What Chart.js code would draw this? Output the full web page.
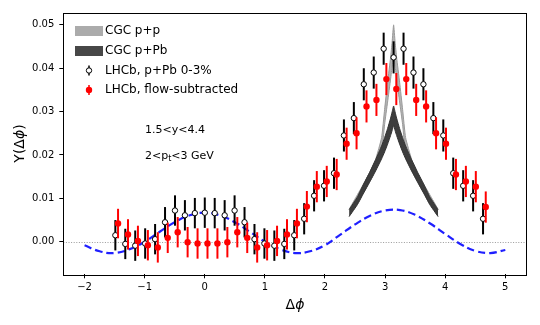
<!DOCTYPE html>
<html>
<head>
<meta charset="utf-8">
<script src="https://cdn.jsdelivr.net/npm/chart.js@4.4.0/dist/chart.umd.min.js"></script>
<style>
  html, body { margin: 0; padding: 0; background: #fff; }
  #wrap { width: 540px; height: 325px; }
</style>
</head>
<body>
<div id="wrap"><canvas id="chart" width="540" height="325"></canvas></div>
<script>
// Delta-phi bin centres (38 bins over -pi/2 .. 3pi/2)
const phiBins = [-1.4881, -1.3228, -1.1574, -0.9921, -0.8267, -0.6614, -0.4960, -0.3307, -0.1653, 0.0000,
  0.1653, 0.3307, 0.4960, 0.6614, 0.8267, 0.9921, 1.1574, 1.3228, 1.4881, 1.6535,
  1.8188, 1.9842, 2.1495, 2.3149, 2.4802, 2.6456, 2.8109, 2.9762, 3.1416, 3.3069,
  3.4723, 3.6376, 3.8030, 3.9683, 4.1337, 4.2990, 4.4644, 4.6297];

// LHCb p+Pb 0-3%
const lhcbY = [0.0015, -0.0005, -0.0009, -0.0004, 0.0006, 0.0045, 0.0072, 0.0061, 0.0066, 0.0067,
  0.0066, 0.0061, 0.0072, 0.0045, 0.0006, -0.0004, -0.0009, -0.0005, 0.0015, 0.0053,
  0.0106, 0.0129, 0.0158, 0.0245, 0.0285, 0.0363, 0.0390, 0.0445, 0.0425, 0.0445,
  0.0390, 0.0363, 0.0285, 0.0245, 0.0158, 0.0129, 0.0106, 0.0053];
const lhcbErr = [0.0035, 0.0035, 0.0035, 0.0035, 0.0035, 0.0035, 0.0035, 0.0035, 0.0035, 0.0035,
  0.0035, 0.0035, 0.0035, 0.0035, 0.0035, 0.0035, 0.0035, 0.0035, 0.0035, 0.0036,
  0.0036, 0.0036, 0.0036, 0.0037, 0.0037, 0.0037, 0.0037, 0.0037, 0.0037, 0.0037,
  0.0037, 0.0037, 0.0037, 0.0037, 0.0036, 0.0036, 0.0036, 0.0036];

// LHCb flow-subtracted (drawn slightly shifted in delta-phi)
const subShift = 0.045;
const subY = [0.0042, 0.0017, 0.0002, -0.0008, -0.0013, 0.0009, 0.0022, -0.0001, -0.0004, -0.0004,
  -0.0004, -0.0001, 0.0022, 0.0009, -0.0013, -0.0008, 0.0002, 0.0017, 0.0042, 0.0081,
  0.0127, 0.0139, 0.0155, 0.0226, 0.0250, 0.0312, 0.0327, 0.0375, 0.0352, 0.0375,
  0.0327, 0.0312, 0.0250, 0.0226, 0.0155, 0.0139, 0.0127, 0.0080];
const subErr = [0.0034, 0.0035, 0.0035, 0.0035, 0.0035, 0.0035, 0.0035, 0.0035, 0.0035, 0.0035,
  0.0035, 0.0035, 0.0035, 0.0035, 0.0035, 0.0035, 0.0035, 0.0035, 0.0034, 0.0036,
  0.0036, 0.0036, 0.0036, 0.0037, 0.0037, 0.0037, 0.0037, 0.0037, 0.0037, 0.0037,
  0.0037, 0.0037, 0.0037, 0.0037, 0.0036, 0.0036, 0.0036, 0.0036];

// flow (dashed blue)
const flowPhi = [-2, -1.75, -1.5, -1.25, -1, -0.75, -0.5, -0.25, 0, 0.25, 0.5, 0.75, 1, 1.25, 1.5,
  1.75, 2, 2.25, 2.5, 2.75, 3, 3.25, 3.5, 3.75, 4, 4.25, 4.5, 4.75, 5];
const flowY = [-0.0008, -0.0022, -0.0026, -0.0017, 0.0000, 0.0023, 0.0045, 0.0061, 0.0067, 0.0061, 0.0045,
  0.0023, 0.0000, -0.0017, -0.0026, -0.0022, -0.0008, 0.0016, 0.0040, 0.0060, 0.0072, 0.0073, 0.0062,
  0.0042, 0.0018, -0.0005, -0.0021, -0.0026, -0.0019];

// CGC bands
const cgcPhi = [2.4016, 2.5416, 2.6416, 2.7416, 2.8416, 2.9416, 2.9916, 3.0416, 3.0916, 3.1166, 3.1416,
  3.1666, 3.1916, 3.2416, 3.2916, 3.3416, 3.4416, 3.5416, 3.6416, 3.7416, 3.8816];
const ppUpper = [0.0075, 0.0109, 0.0133, 0.0159, 0.0190, 0.0240, 0.0305, 0.0368, 0.0425, 0.0460, 0.0500,
  0.0460, 0.0425, 0.0368, 0.0305, 0.0240, 0.0190, 0.0159, 0.0133, 0.0109, 0.0075];
const ppLower = [0.0059, 0.0090, 0.0113, 0.0138, 0.0165, 0.0205, 0.0270, 0.0322, 0.0375, 0.0405, 0.0440,
  0.0405, 0.0375, 0.0322, 0.0270, 0.0205, 0.0165, 0.0138, 0.0113, 0.0090, 0.0059];
const pPbUpper = [0.0074, 0.0104, 0.0133, 0.0160, 0.0189, 0.0221, 0.0240, 0.0261, 0.0285, 0.0299, 0.0313,
  0.0299, 0.0285, 0.0261, 0.0240, 0.0221, 0.0189, 0.0160, 0.0133, 0.0104, 0.0074];
const pPbLower = [0.0058, 0.0086, 0.0112, 0.0137, 0.0163, 0.0191, 0.0207, 0.0225, 0.0245, 0.0256, 0.0268,
  0.0256, 0.0245, 0.0225, 0.0207, 0.0191, 0.0163, 0.0137, 0.0112, 0.0086, 0.0058];

const xTicks = [-2, -1, 0, 1, 2, 3, 4, 5];
const yTicks = [0, 0.01, 0.02, 0.03, 0.04, 0.05];

const FONT = '"DejaVu Sans", sans-serif';
const pts = (xs, ys, dx = 0) => xs.map((x, i) => ({ x: x + dx, y: ys[i] }));

// draws text made of several pieces (different fonts / offsets)
function drawParts(ctx, parts, x, y, align) {
	let w = 0;
	parts.forEach(p => { ctx.font = p.font; w += ctx.measureText(p.t).width; });
	let cx = align === 'center' ? x - w / 2 : x;
	ctx.textAlign = 'left';
	ctx.textBaseline = 'middle';
	parts.forEach(p => {
		ctx.font = p.font;
		ctx.fillText(p.t, cx, y + (p.dy || 0));
		cx += ctx.measureText(p.t).width;
	});
}

const errorBars = {
	id: 'errorBars',
	beforeDatasetDraw(chart, args) {
		const ds = chart.data.datasets[args.index];
		if (!ds.errors) return;
		const { ctx, scales: { x, y } } = chart;
		ctx.save();
		ctx.strokeStyle = ds.errColor;
		ctx.lineWidth = 2;
		ds.data.forEach((p, i) => {
			const px = x.getPixelForValue(p.x);
			ctx.beginPath();
			ctx.moveTo(px, y.getPixelForValue(p.y - ds.errors[i]));
			ctx.lineTo(px, y.getPixelForValue(p.y + ds.errors[i]));
			ctx.stroke();
		});
		ctx.restore();
	}
};

const decorations = {
	id: 'decorations',
	beforeDatasetsDraw(chart) {
		// dotted zero line
		const { ctx, chartArea: a, scales: { y } } = chart;
		const py = Math.round(y.getPixelForValue(0)) + 0.5;
		ctx.save();
		ctx.strokeStyle = '#808080';
		ctx.lineWidth = 0.8;
		ctx.setLineDash([1, 1.6]);
		ctx.beginPath();
		ctx.moveTo(a.left, py);
		ctx.lineTo(a.right, py);
		ctx.stroke();
		ctx.restore();
	},
	afterDraw(chart) {
		const { ctx, chartArea: a } = chart;
		ctx.save();
		// frame
		ctx.strokeStyle = '#000';
		ctx.lineWidth = 1;
		ctx.strokeRect(Math.round(a.left) + 0.5, Math.round(a.top) + 0.5,
			Math.round(a.right - a.left), Math.round(a.bottom - a.top));

		ctx.fillStyle = '#000';
		// axis titles
		drawParts(ctx, [
			{ t: 'Δ', font: '14px ' + FONT },
			{ t: 'ϕ', font: 'italic 14px ' + FONT }
		], (a.left + a.right) / 2, 305, 'center');
		ctx.save();
		ctx.translate(20, (a.top + a.bottom) / 2);
		ctx.rotate(-Math.PI / 2);
		drawParts(ctx, [
			{ t: 'Y(Δ', font: '14px ' + FONT },
			{ t: 'ϕ', font: 'italic 14px ' + FONT },
			{ t: ')', font: '14px ' + FONT }
		], 0, 0, 'center');
		ctx.restore();

		// annotations
		drawParts(ctx, [{ t: '1.5<y<4.4', font: '11px ' + FONT }], 145, 130, 'left');
		drawParts(ctx, [
			{ t: '2<p', font: '11px ' + FONT },
			{ t: 't', font: '8px ' + FONT, dy: 3 },
			{ t: '<3 GeV', font: '11px ' + FONT }
		], 145, 156, 'left');

		// legend
		ctx.fillStyle = '#ababab';
		ctx.fillRect(75, 26, 28, 10);
		ctx.fillStyle = '#474747';
		ctx.fillRect(75, 46, 28, 10);

		ctx.lineWidth = 1.5;
		ctx.strokeStyle = '#000';
		ctx.beginPath(); ctx.moveTo(89, 65.5); ctx.lineTo(89, 75.5); ctx.stroke();
		ctx.fillStyle = '#fff';
		ctx.lineWidth = 1;
		ctx.beginPath(); ctx.arc(89, 70.5, 2.7, 0, Math.PI * 2); ctx.fill(); ctx.stroke();

		ctx.strokeStyle = '#ff0000';
		ctx.fillStyle = '#ff0000';
		ctx.lineWidth = 1.5;
		ctx.beginPath(); ctx.moveTo(89, 85); ctx.lineTo(89, 95); ctx.stroke();
		ctx.beginPath(); ctx.arc(89, 90, 3.2, 0, Math.PI * 2); ctx.fill();

		ctx.fillStyle = '#000';
		const lf = '12px ' + FONT;
		drawParts(ctx, [{ t: 'CGC p+p', font: lf }], 105, 31, 'left');
		drawParts(ctx, [{ t: 'CGC p+Pb', font: lf }], 105, 51, 'left');
		drawParts(ctx, [{ t: 'LHCb, p+Pb 0-3%', font: lf }], 105, 70.5, 'left');
		drawParts(ctx, [{ t: 'LHCb, flow-subtracted', font: lf }], 105, 90, 'left');
		ctx.restore();
	}
};

new Chart(document.getElementById('chart'), {
	type: 'scatter',
	data: {
		datasets: [
			{
				label: 'LHCb, flow-subtracted',
				data: pts(phiBins, subY, subShift),
				errors: subErr,
				errColor: '#ff0000',
				pointRadius: 3.2,
				pointBackgroundColor: '#ff0000',
				pointBorderColor: '#ff0000',
				pointBorderWidth: 0,
				order: 0
			},
			{
				label: 'LHCb, p+Pb 0-3%',
				data: pts(phiBins, lhcbY),
				errors: lhcbErr,
				errColor: '#000000',
				pointRadius: 2.7,
				pointBackgroundColor: '#ffffff',
				pointBorderColor: '#000000',
				pointBorderWidth: 1,
				order: 1
			},
			{
				label: 'flow',
				data: pts(flowPhi, flowY),
				showLine: true,
				pointRadius: 0,
				borderColor: '#1f1fff',
				borderWidth: 2.2,
				borderDash: [7.5, 4],
				tension: 0.4,
				order: 2
			},
			{
				label: 'CGC p+Pb lower',
				data: pts(cgcPhi, pPbLower),
				showLine: true,
				pointRadius: 0,
				borderColor: '#333333',
				borderWidth: 1,
				tension: 0.15,
				order: 3
			},
			{
				label: 'CGC p+Pb',
				data: pts(cgcPhi, pPbUpper),
				showLine: true,
				pointRadius: 0,
				borderColor: '#333333',
				borderWidth: 1,
				backgroundColor: '#3d3d3d',
				fill: '-1',
				tension: 0.15,
				order: 3
			},
			{
				label: 'CGC p+p lower',
				data: pts(cgcPhi, ppLower),
				showLine: true,
				pointRadius: 0,
				borderColor: '#999999',
				borderWidth: 1,
				tension: 0.15,
				order: 4
			},
			{
				label: 'CGC p+p',
				data: pts(cgcPhi, ppUpper),
				showLine: true,
				pointRadius: 0,
				borderColor: '#999999',
				borderWidth: 1,
				backgroundColor: '#b4b4b4',
				fill: '-1',
				tension: 0.15,
				order: 4
			}
		]
	},
	options: {
		responsive: false,
		animation: false,
		layout: { padding: { top: 12.7, right: 13.3, left: 0, bottom: 0 } },
		plugins: {
			legend: { display: false },
			tooltip: { enabled: false }
		},
		scales: {
			x: {
				type: 'linear',
				min: -2.354,
				max: 5.356,
				afterBuildTicks: s => { s.ticks = xTicks.map(v => ({ value: v })); },
				afterFit: s => { s.height = 50.7; },
				border: { display: false },
				grid: { display: true, drawOnChartArea: false, drawTicks: true, tickLength: 4, tickColor: '#000' },
				ticks: {
					color: '#000',
					padding: 3,
					maxRotation: 0,
					font: { family: FONT, size: 10 },
					callback: v => (v < 0 ? '\u2212' + Math.abs(v) : String(v))
				}
			},
			y: {
				type: 'linear',
				min: -0.0075,
				max: 0.0528,
				afterBuildTicks: s => { s.ticks = yTicks.map(v => ({ value: v })); },
				afterFit: s => { s.width = 63.3; },
				border: { display: false },
				grid: { display: true, drawOnChartArea: false, drawTicks: true, tickLength: 4, tickColor: '#000' },
				ticks: {
					color: '#000',
					padding: 5,
					font: { family: FONT, size: 10 },
					callback: v => v.toFixed(2)
				}
			}
		}
	},
	plugins: [errorBars, decorations]
});
</script>
</body>
</html>
